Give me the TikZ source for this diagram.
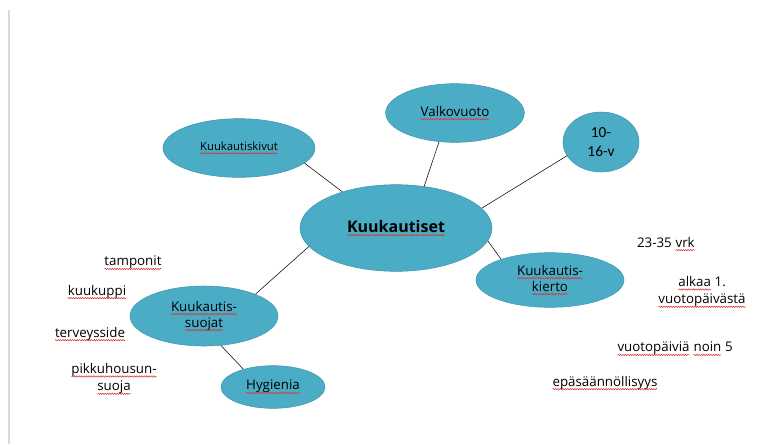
\documentclass[tikz,border=0pt]{standalone}
\usepackage{fontspec}
\setmainfont{Open Sans}
\newfontfamily\calib{Carlito}
\usetikzlibrary{shapes.geometric,decorations.pathmorphing}
\definecolor{aqua}{HTML}{4BACC6}
\definecolor{aquaedge}{HTML}{3F96AE}
\definecolor{pagerule}{HTML}{DADADA}
\definecolor{spellred}{HTML}{E03030}
% red wavy underline of the spell checker
\newcommand{\spell}[1]{\tikz[baseline=0pt]{%
  \node[shape=rectangle, draw=none, fill=none, inner sep=0pt, outer sep=0pt,
    minimum size=0pt, anchor=base west] (w) at (0pt,0pt) {#1};
  \draw[spellred, line width=0.4pt, decorate,
    decoration={snake, amplitude=0.5pt, segment length=1.8pt}]
    ([yshift=-2.3pt]w.base west) -- ([yshift=-2.3pt]w.base east);}}

\begin{document}
\begin{tikzpicture}[x=0.75pt, y=-0.75pt,
  bubble/.style={ellipse, fill=aqua, draw=aquaedge, inner sep=0pt, align=center, font=\fontsize{10}{12}\selectfont},
  note/.style={align=center, font=\fontsize{10}{13}\selectfont}]
  \useasboundingbox (0,0) rectangle (781,444);
  \draw[pagerule, line width=1.5pt] (9,10) -- (9,444);

  \draw (396,228) node[bubble, minimum width=144pt, minimum height=65pt, font=\fontsize{12}{14}\selectfont\bfseries] (kuuk) {\spell{Kuukautiset}};
  \draw (239,148) node[bubble, minimum width=114pt, minimum height=44pt, font=\fontsize{8.5}{10}\selectfont] (kivut) {\spell{Kuukautiskivut}};
  \draw (455,113) node[bubble, minimum width=104pt, minimum height=44pt] (valko) {\spell{Valkovuoto}};
  \draw (601,142) node[bubble, minimum width=57pt, minimum height=45pt, font=\calib\fontsize{11.5}{14}\selectfont] (ika) {10-\\16-v};
  \draw (550,280) node[bubble, minimum width=111pt, minimum height=41pt] (kierto) {\spell{Kuukautis-}\\\spell{kierto}};
  \draw (204,316) node[bubble, minimum width=111pt, minimum height=45pt] (suojat) {\spell{Kuukautis-}\\\spell{suojat}};
  \draw (273,387) node[bubble, minimum width=78pt, minimum height=32pt] (hyg) {\spell{Hygienia}};

  \draw (kuuk.146) -- (kivut.-13);
  \draw (kuuk.56) -- (valko.-119);
  \draw (kuuk.13) -- (ika.202);
  \draw (kuuk.-8) -- (kierto.157);
  \draw (kuuk.192) -- (suojat.23);
  \draw (suojat.-60) -- (hyg.149);

  % suojat
  \draw (133,263) node[note] (tampo) {\spell{tamponit}};
  \draw (97,292) node[note] (kuppi) {\spell{kuukuppi}};
  \draw (90,334) node[note] (side) {\spell{terveysside}};
  \draw (114,379) node[note] (pikku) {\spell{pikkuhousun-}\\\spell{suoja}};

  % kierto
  \draw (666,244) node[note] (vrk) {23-35 \spell{vrk}};
  \draw (702,292) node[note] (alkaa) {\spell{alkaa} 1.\\\spell{vuotopäivästä}};
  \draw (675,349) node[note] (noin) {\spell{vuotopäiviä} \spell{noin} 5};
  \draw (605,383) node[note] (epas) {\spell{epäsäännöllisyys}};
\end{tikzpicture}
\end{document}
